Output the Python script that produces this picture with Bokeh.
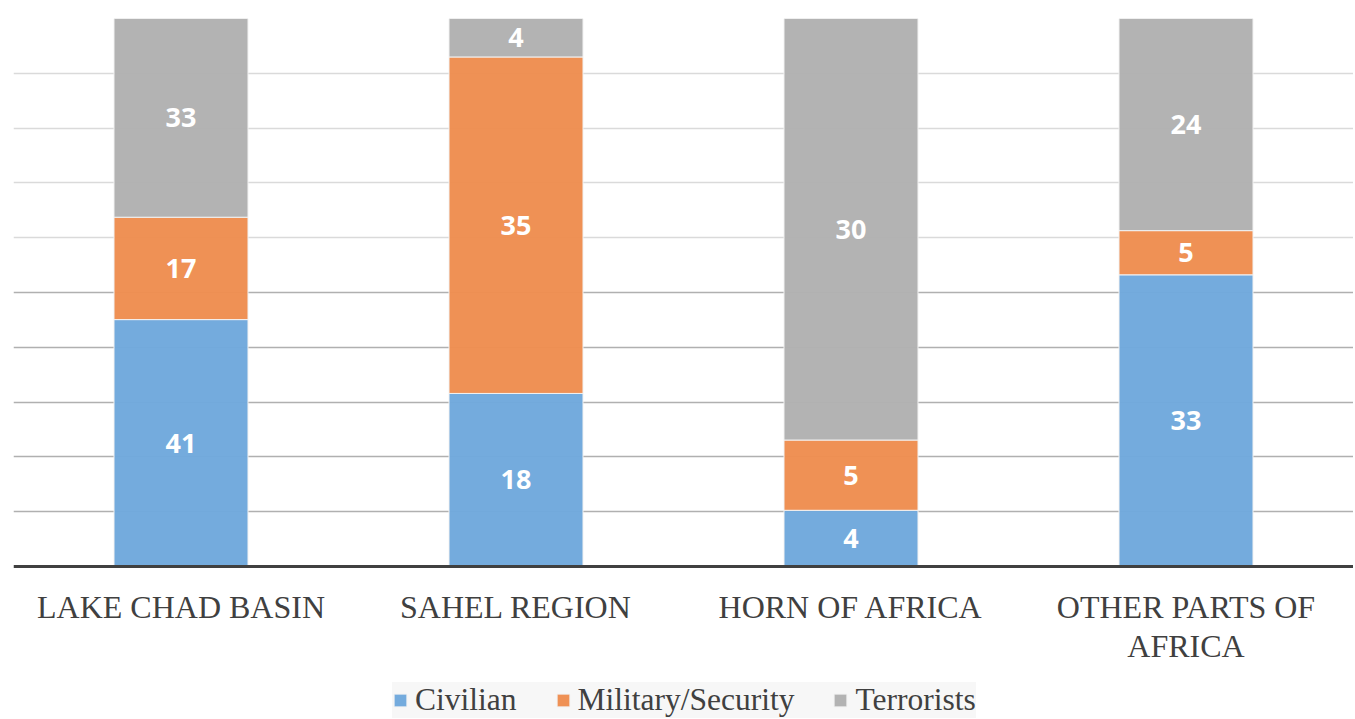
from bokeh.plotting import figure
from bokeh.models import (ColumnDataSource, Legend, LegendItem, FixedTicker, Grid,
                          FactorRange, Range1d, Span)
from bokeh.core.properties import value
from bokeh.embed import file_html
from bokeh.resources import INLINE

categories = ["LAKE CHAD BASIN", "SAHEL REGION", "HORN OF AFRICA", "OTHER PARTS OF\nAFRICA"]
civilian = [41, 18, 4, 33]
military = [17, 35, 5, 5]
terrorists = [33, 4, 30, 24]
series_names = ["Civilian", "Military/Security", "Terrorists"]
colors = ["#6fa8dc", "#ee8d4f", "#b1b1b1"]

totals = [a + b + c for a, b, c in zip(civilian, military, terrorists)]
raw = [civilian, military, terrorists]
pct = [[v / t * 100 for v, t in zip(s, totals)] for s in raw]

data = {"cat": categories}
for name, p_ in zip(series_names, pct):
    data[name] = p_
src = ColumnDataSource(data)

FRAME_H = 700
PLOT_H = 548  # pixels for 0..100
y_min = 100 - 100 * FRAME_H / PLOT_H

p = figure(x_range=FactorRange(*categories, range_padding=0), y_range=Range1d(y_min, 100),
           frame_width=1340, frame_height=FRAME_H,
           x_axis_location=None, y_axis_location=None,
           output_backend="svg", toolbar_location=None,
           min_border_left=13, min_border_right=0, min_border_top=18, min_border_bottom=0)
p.outline_line_color = None
p.background_fill_color = "white"
p.border_fill_color = "white"
p.xgrid.visible = False
p.ygrid.visible = False

# grids
g1 = Grid(dimension=1, ticker=FixedTicker(ticks=[60, 70, 80, 90, 100]),
          grid_line_color="#dadada", grid_line_width=1.5)
g2 = Grid(dimension=1, ticker=FixedTicker(ticks=[10, 20, 30, 40, 50]),
          grid_line_color="#b0b0b0", grid_line_width=1.5)
p.add_layout(g1)
p.add_layout(g2)

renderers = p.vbar_stack(series_names, x="cat", width=0.4, source=src, color=colors,
                         line_color="#f2f2f2", line_width=1, fill_alpha=0.97)

# value labels
lx, ly, lt = [], [], []
for i, c in enumerate(categories):
    base = 0
    for s_raw, s_pct in zip(raw, pct):
        lx.append(c)
        ly.append(base + s_pct[i] / 2)
        lt.append(str(s_raw[i]))
        base += s_pct[i]
lsrc = ColumnDataSource(dict(x=lx, y=ly, t=lt))
p.text(x="x", y="y", text="t", source=lsrc, text_align="center", text_baseline="middle",
       text_color="white", text_font=value("Open Sans"), text_font_style="bold",
       text_font_size="27px")

# baseline (category axis line)
p.add_layout(Span(location=0, dimension="width", line_color="#404040", line_width=3))

# category labels below the baseline
csrc = ColumnDataSource(dict(x=categories, y=[0] * len(categories), t=categories))
p.text(x="x", y="y", text="t", source=csrc, text_align="center", text_baseline="top",
       y_offset=22, text_color="#404040", text_font=value("Liberation Serif"),
       text_font_size="32px", text_line_height=1.1)

legend = Legend(items=[LegendItem(label=n, renderers=[r]) for n, r in zip(series_names, renderers)],
                orientation="horizontal", location=(379, 0),
                label_text_font="Liberation Serif", label_text_font_size="31.5px",
                label_text_color="#404040", glyph_width=16, glyph_height=16,
                label_standoff=7, spacing=38, padding=5, margin=0,
                background_fill_color="#f7f7f7", background_fill_alpha=1,
                border_line_color=None)
p.add_layout(legend, "center")

open("out.html", "w").write(file_html(p, INLINE))
